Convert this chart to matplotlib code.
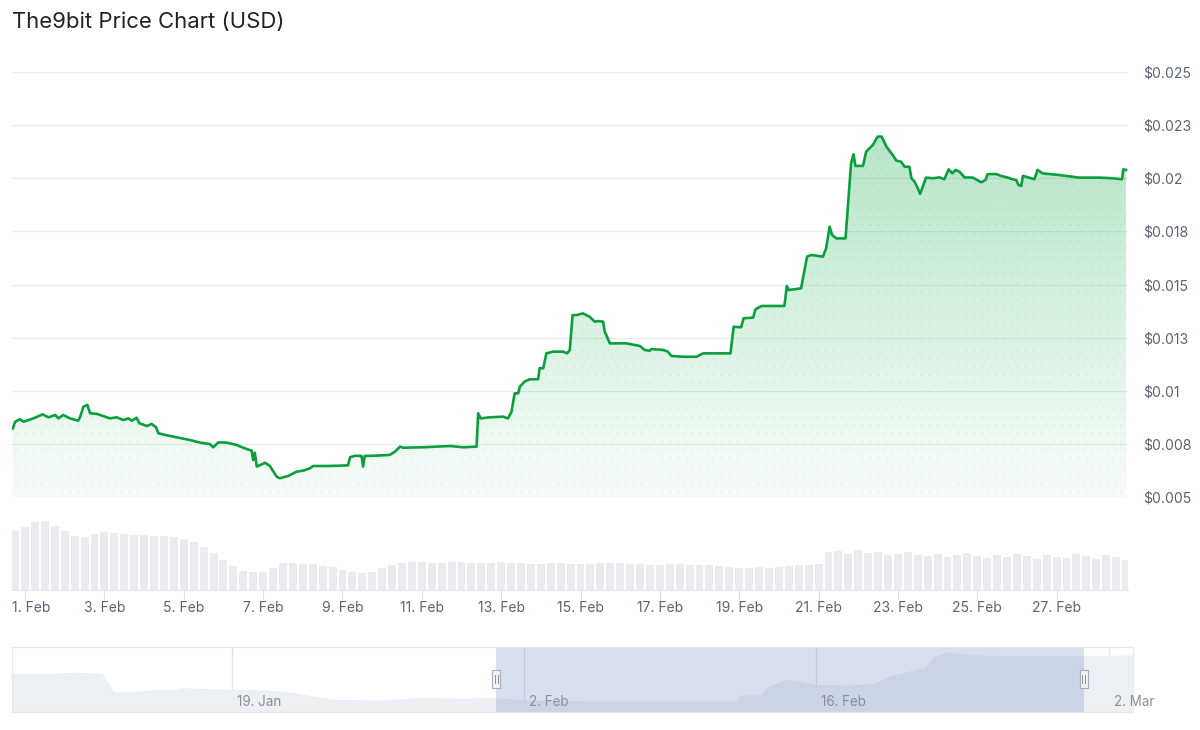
import numpy as np
import matplotlib.pyplot as plt
from matplotlib.patches import Rectangle
import matplotlib.transforms as mtransforms

plt.rcParams['font.family'] = ['Inter', 'DejaVu Sans']

title = "The9bit Price Chart (USD)"

# price, days counted from 1 Feb 00:00
main_days = [-0.31, -0.25, -0.13, -0.04, 0.04, 0.21, 0.44, 0.59, 0.76, 0.84,
             0.96, 1.13, 1.34, 1.39, 1.47, 1.57, 1.64, 1.81, 1.97, 2.14,
             2.31, 2.48, 2.60, 2.69, 2.81, 2.88, 3.07, 3.19, 3.30, 3.36,
             3.53, 3.74, 3.95, 4.16, 4.41, 4.66, 4.74, 4.87, 5.08, 5.33,
             5.54, 5.71, 5.75, 5.79, 5.84, 6.05, 6.17, 6.34, 6.42, 6.63,
             6.84, 7.01, 7.18, 7.26, 7.68, 8.14, 8.19, 8.31, 8.48, 8.52,
             8.56, 8.77, 9.19, 9.32, 9.45, 9.53, 10.03, 10.71, 11.04, 11.38,
             11.42, 11.48, 11.71, 12.05, 12.17, 12.26, 12.34, 12.43, 12.47, 12.59,
             12.72, 12.93, 12.97, 13.06, 13.14, 13.31, 13.56, 13.66, 13.73, 13.80,
             13.90, 14.06, 14.23, 14.36, 14.44, 14.57, 14.61, 14.74, 15.16, 15.49,
             15.62, 15.74, 15.79, 16.08, 16.20, 16.29, 16.58, 16.92, 17.09, 17.78,
             17.86, 18.05, 18.11, 18.35, 18.41, 18.56, 19.14, 19.20, 19.25, 19.56,
             19.71, 19.82, 20.11, 20.19, 20.28, 20.34, 20.45, 20.68, 20.82, 20.88,
             20.93, 21.12, 21.20, 21.37, 21.49, 21.59, 21.71, 21.87, 21.96, 22.08,
             22.17, 22.29, 22.34, 22.42, 22.50, 22.56, 22.71, 22.88, 23.05, 23.17,
             23.28, 23.37, 23.45, 23.55, 23.68, 23.89, 24.10, 24.21, 24.26, 24.48,
             24.60, 24.77, 24.89, 24.98, 25.04, 25.11, 25.15, 25.36, 25.44, 25.52,
             25.65, 26.07, 26.57, 27.08, 27.41, 27.65, 27.68, 27.75]
main_price = [0.00823, 0.00854, 0.00866, 0.00854, 0.00859, 0.00870, 0.00889, 0.00875, 0.00886, 0.00870,
              0.00886, 0.00870, 0.00859, 0.00878, 0.00925, 0.00933, 0.00894, 0.00891, 0.00881, 0.00870,
              0.00875, 0.00862, 0.00870, 0.00859, 0.00873, 0.00847, 0.00834, 0.00844, 0.00828, 0.00800,
              0.00792, 0.00784, 0.00776, 0.00768, 0.00756, 0.00749, 0.00734, 0.00757, 0.00756, 0.00745,
              0.00729, 0.00718, 0.00674, 0.00708, 0.00643, 0.00661, 0.00646, 0.00596, 0.00588, 0.00599,
              0.00619, 0.00624, 0.00635, 0.00646, 0.00646, 0.00649, 0.00687, 0.00694, 0.00693, 0.00643,
              0.00693, 0.00694, 0.00698, 0.00713, 0.00737, 0.00732, 0.00734, 0.00740, 0.00734, 0.00737,
              0.00894, 0.00870, 0.00875, 0.00878, 0.00870, 0.00901, 0.00988, 0.00988, 0.01019, 0.01043,
              0.01054, 0.01054, 0.01106, 0.01106, 0.01176, 0.01184, 0.01184, 0.01176, 0.01192, 0.01356,
              0.01356, 0.01364, 0.01348, 0.01325, 0.01328, 0.01325, 0.01278, 0.01223, 0.01223, 0.01211,
              0.01192, 0.01188, 0.01196, 0.01192, 0.01184, 0.01164, 0.01160, 0.01160, 0.01176, 0.01176,
              0.01301, 0.01299, 0.01341, 0.01344, 0.01383, 0.01399, 0.01399, 0.01493, 0.01474, 0.01482,
              0.01631, 0.01639, 0.01631, 0.01670, 0.01772, 0.01733, 0.01717, 0.01717, 0.02070, 0.02113,
              0.02058, 0.02058, 0.02125, 0.02157, 0.02196, 0.02196, 0.02149, 0.02109, 0.02083, 0.02078,
              0.02054, 0.02054, 0.02000, 0.01984, 0.01953, 0.01926, 0.02003, 0.02000, 0.02004, 0.01995,
              0.02042, 0.02023, 0.02039, 0.02031, 0.02004, 0.02003, 0.01981, 0.01992, 0.02019, 0.02020,
              0.02011, 0.02003, 0.01995, 0.01992, 0.01968, 0.01964, 0.02011, 0.02000, 0.01995, 0.02039,
              0.02023, 0.02015, 0.02003, 0.02003, 0.02000, 0.01995, 0.02042, 0.02039]

# volume (thousand USD), one bar every 6 hours starting 31 Jan 18:00
volumes = [59, 63, 68, 69, 64, 59, 54, 53, 56, 58, 57, 56, 55, 55, 54, 54, 53, 51, 48, 43,
           37, 30, 24, 19, 18, 18, 22, 27, 27, 26, 26, 24, 23, 20, 18, 17, 18, 22, 25, 27,
           28, 28, 27, 27, 28, 28, 27, 27, 27, 28, 27, 27, 26, 26, 27, 27, 26, 26, 26, 27,
           27, 27, 26, 26, 25, 25, 26, 26, 25, 25, 25, 24, 23, 22, 22, 23, 22, 23, 24, 25,
           25, 26, 38, 39, 36, 40, 37, 38, 35, 36, 38, 35, 34, 36, 33, 35, 37, 34, 32, 35,
           33, 36, 34, 31, 35, 33, 32, 36, 34, 31, 35, 33, 30]
vol_days = -0.25 + 0.25 * np.arange(len(volumes))

# navigator series (longer history)
nav_days = [-23.53, -21.40, -20.47, -19.73, -19.20, -18.67, -17.71, -16.61, -16.08, -15.31,
            -13.88, -11.29, -10.19, -8.90, -8.17, -5.78, -3.96, -2.13, -0.46, 1.0,
            4.63, 11.20, 11.33, 12.30, 12.68, 13.62, 14.35, 14.90, 16.56, 17.84,
            18.39, 19.67, 20.22, 20.59, 21.33, 22.24, 24.81, 27.71, 30.18]
nav_price = [0.01494, 0.01504, 0.01527, 0.01514, 0.01471, 0.00893, 0.00893, 0.00981, 0.00948, 0.01024,
             0.00991, 0.00948, 0.00873, 0.00730, 0.00645, 0.00622, 0.00710, 0.00677, 0.00710, 0.00622,
             0.00589, 0.00589, 0.00785, 0.00785, 0.01056, 0.01298, 0.01220, 0.01135, 0.01112, 0.01167,
             0.01383, 0.01602, 0.01709, 0.02036, 0.02199, 0.02092, 0.02059, 0.02059, 0.02092]

price_ticks = [0.005, 0.0075, 0.01, 0.0125, 0.015, 0.0175, 0.02, 0.0225, 0.025]
price_labels = ["$0.005", "$0.008", "$0.01", "$0.013", "$0.015", "$0.018", "$0.02", "$0.023", "$0.025"]
date_ticks = [0, 2, 4, 6, 8, 10, 12, 14, 16, 18, 20, 22, 24, 26]
date_labels = ["1. Feb", "3. Feb", "5. Feb", "7. Feb", "9. Feb", "11. Feb", "13. Feb",
               "15. Feb", "17. Feb", "19. Feb", "21. Feb", "23. Feb", "25. Feb", "27. Feb"]
nav_ticks = [-13, 1, 15, 29]
nav_labels = ["19. Jan", "2. Feb", "16. Feb", "2. Mar"]

x_range = (-0.33, 27.8)
nav_range = (-23.53, 30.17)

green = '#0b9f3e'
green_rgb = (0.0, 0.66, 0.24)
text_col = '#5b6474'
grid_col = '#e9ecf0'

W, H = 1200, 730
fig = plt.figure(figsize=(W / 100, H / 100), dpi=100)


def box(x0, y0, x1, y1):
    return [x0 / W, 1 - y1 / H, (x1 - x0) / W, (y1 - y0) / H]


fig.text(12 / W, 1 - 22 / H, title, fontsize=15.9, color='#1f2329', ha='left', va='center')

# price panel
ax = fig.add_axes(box(12, 72, 1128, 497))
ax.set_xlim(*x_range)
ax.set_ylim(0.005, 0.025)
for s in ax.spines.values():
    s.set_visible(False)
ax.set_xticks([])
ax.set_yticks(price_ticks)
ax.set_yticklabels(price_labels)
ax.yaxis.tick_right()
ax.tick_params(axis='y', length=0, pad=11, labelsize=10.1, labelcolor=text_col)
ax.grid(axis='y', color=grid_col, lw=0.9)
ax.set_axisbelow(True)

poly = ax.fill_between(main_days, main_price, 0.005, color='none', lw=0)
n = 256
grad = np.zeros((n, 1, 4))
grad[..., 0], grad[..., 1], grad[..., 2] = green_rgb
grad[..., 3] = np.linspace(0.03, 0.33, n).reshape(-1, 1)
im = ax.imshow(grad, extent=[x_range[0], x_range[1], 0.005, 0.025], origin='lower',
               aspect='auto', zorder=1, interpolation='bilinear')
im.set_clip_path(poly.get_paths()[0], transform=ax.transData)

plt.rcParams['hatch.linewidth'] = 0.0
ax.fill_between(main_days, main_price, 0.005, facecolor='none',
                edgecolor=(0.05, 0.55, 0.25, 0.10), hatch='..', lw=0, zorder=1.5)
ax.plot(main_days, main_price, color=green, lw=1.9, zorder=3, solid_joinstyle='round')

# volume panel
axv = fig.add_axes(box(12, 518, 1128, 590))
axv.bar(vol_days, volumes, width=0.2, color='#eaecef', lw=0)
axv.set_xlim(*x_range)
axv.set_ylim(0, 72)
for k, s in axv.spines.items():
    s.set_visible(k == 'bottom')
axv.spines['bottom'].set_color('#e3e6ea')
axv.set_yticks([])
axv.set_xticks(date_ticks)
axv.set_xticklabels(date_labels)
axv.tick_params(axis='x', length=7, color='#dcdfe4', labelsize=10, labelcolor=text_col, pad=1)
lab0 = axv.get_xticklabels()[0]
lab0.set_ha('left')
lab0.set_transform(lab0.get_transform() + mtransforms.ScaledTranslation(-0.13, 0, fig.dpi_scale_trans))

# navigator
axn = fig.add_axes(box(12, 647, 1133, 712))
axn.set_xlim(*nav_range)
axn.set_ylim(0.0023, 0.0235)
axn.fill_between(nav_days, nav_price, 0.0023, color='#eceff3', lw=0, zorder=1)
for d in nav_ticks:
    axn.axvline(d, color='#e3e5e8', lw=0.9, zorder=0.5)
for d, lab in zip(nav_ticks, nav_labels):
    axn.text(d, 0.154, lab, transform=axn.get_xaxis_transform(), ha='left', va='center',
             fontsize=9.7, color='#8a9099', clip_on=False,
             ).set_transform(axn.get_xaxis_transform() + mtransforms.ScaledTranslation(0.05, 0, fig.dpi_scale_trans))
axn.axvspan(x_range[0], x_range[1], color=(0.4, 0.52, 0.76, 0.25), lw=0, zorder=2)
axn.set_xticks([])
axn.set_yticks([])
for s in axn.spines.values():
    s.set_color('#e6e8eb')
    s.set_linewidth(0.8)

fig.canvas.draw()
for d in x_range:
    xd, _ = axn.transData.transform((d, 0.0023))
    y0 = H - 688
    fig.add_artist(Rectangle((xd - 4, y0), 8, 18, transform=mtransforms.IdentityTransform(),
                             facecolor='#f2f2f2', edgecolor='#a9afb8', lw=0.8, zorder=5))
    for dx in (-1.2, 1.2):
        fig.add_artist(plt.Line2D([xd + dx, xd + dx], [y0 + 5, y0 + 13],
                                  transform=mtransforms.IdentityTransform(), color='#8a9099', lw=0.7, zorder=6))

fig.savefig('out.png', dpi=100)
